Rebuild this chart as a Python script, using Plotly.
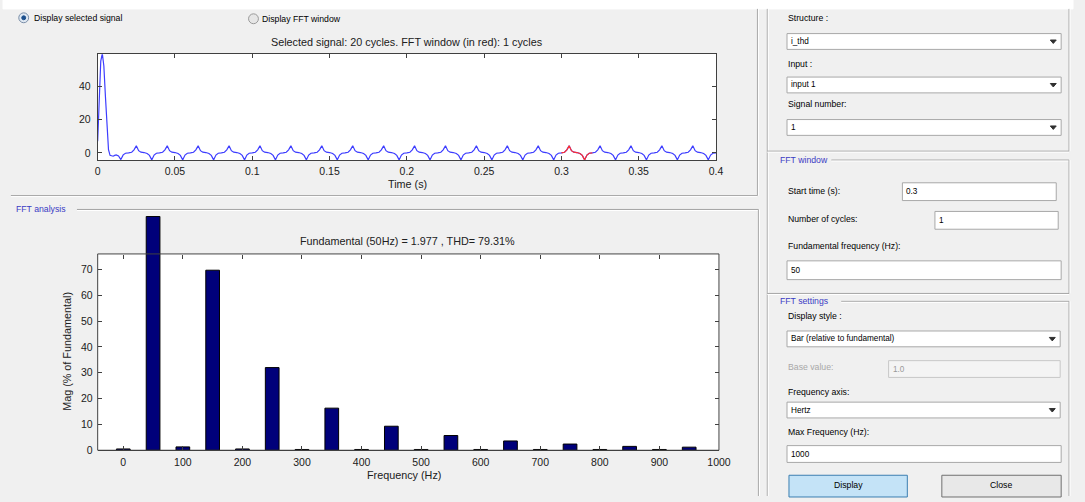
import plotly.graph_objects as go

W, H = 1085, 502

# ---------------- data ----------------
# transient at start of the selected signal (time s, value)
transient_t = [0.000, 0.001, 0.002, 0.003, 0.004, 0.005, 0.006, 0.007, 0.008, 0.010, 0.011, 0.012, 0.0135, 0.015, 0.0165, 0.018]
transient_v = [7.0, 35.0, 55.0, 59.5, 52.0, 34.0, 14.0, 2.0, -1.5, -2.0, -1.5, -1.2, -1.8, -4.0, -1.2, -0.2]
# one steady-state cycle (phase within the 20 ms period, value)
cycle_phase = [0.000, 0.002, 0.0035, 0.005, 0.0065, 0.008, 0.010, 0.012, 0.0135, 0.015, 0.0165, 0.018]
cycle_value = [0.0, 0.4, 1.8, 4.2, 1.3, 0.4, 0.2, -0.4, -1.5, -4.2, -1.3, -0.2]
n_cycles = 20
period = 0.02
win_start = 0.30
win_cycles = 1

freq_hz = [0, 50, 100, 150, 200, 250, 300, 350, 400, 450, 500, 550, 600, 650, 700, 750, 800, 850, 900, 950]
mag_pct = [0.5, 90.5, 1.3, 69.7, 0.5, 32.0, 0.3, 16.3, 0.3, 9.3, 0.3, 5.7, 0.3, 3.6, 0.3, 2.4, 0.3, 1.5, 0.3, 1.2]

time_ticks = [0, 0.05, 0.1, 0.15, 0.2, 0.25, 0.3, 0.35, 0.4]
sig_ticks = [0, 20, 40]
freq_ticks = [0, 100, 200, 300, 400, 500, 600, 700, 800, 900, 1000]
mag_ticks = [0, 10, 20, 30, 40, 50, 60, 70]
mag_box_top = 76      # visible top of the spectrum axes box
mag_draw_top = 90.5   # the fundamental bar is drawn past the box

# build signal series from the transient + repeated steady-state cycle
sig_t = list(transient_t)
sig_v = list(transient_v)
for k in range(1, n_cycles):
    for p, v in zip(cycle_phase, cycle_value):
        sig_t.append(round(k * period + p, 6))
        sig_v.append(v)
sig_t.append(n_cycles * period)
sig_v.append(0.0)
win_end = win_start + win_cycles * period
red_t = [t for t in sig_t if win_start - 1e-9 <= t <= win_end + 1e-9]
red_v = [v for t, v in zip(sig_t, sig_v) if win_start - 1e-9 <= t <= win_end + 1e-9]

# ---------------- helpers ----------------
def X(px):
    return px / W

def Y(py):
    return 1 - py / H

FONT = "Liberation Sans, Arial, sans-serif"
GS = 8.7  # gui font size
shapes = []
annots = []

def rect(x0, y0, x1, y1, fill=None, line="#a0a0a0", lw=1, layer="below"):
    shapes.append(dict(type="rect", xref="paper", yref="paper",
                       x0=X(x0), x1=X(x1), y0=Y(y1), y1=Y(y0),
                       fillcolor=fill if fill else "rgba(0,0,0,0)",
                       line=dict(color=line, width=lw), layer=layer))

def hline(x0, x1, y, color="#a0a0a0"):
    shapes.append(dict(type="line", xref="paper", yref="paper",
                       x0=X(x0), x1=X(x1), y0=Y(y), y1=Y(y),
                       line=dict(color=color, width=1), layer="below"))

def vline(x, y0, y1, color="#a0a0a0"):
    shapes.append(dict(type="line", xref="paper", yref="paper",
                       x0=X(x), x1=X(x), y0=Y(y0), y1=Y(y1),
                       line=dict(color=color, width=1), layer="below"))

def etched_h(x0, x1, y):
    hline(x0, x1, y, "#a0a0a0")
    hline(x0, x1, y + 1, "#ffffff")

def etched_v(x, y0, y1):
    vline(x, y0, y1, "#a0a0a0")
    vline(x + 1, y0, y1, "#ffffff")

def text(x, y, s, size=GS, color="#000000", anchor="left", angle=0):
    annots.append(dict(xref="paper", yref="paper", x=X(x), y=Y(y), text=s,
                       showarrow=False, xanchor=anchor, yanchor="middle",
                       textangle=angle, borderpad=0,
                       font=dict(family=FONT, size=size, color=color)))

def edit_box(x0, y0, x1, y1, s, color="#000000", disabled=False):
    rect(x0, y0, x1, y1, fill="#f4f4f4" if disabled else "#ffffff",
         line="#c8c8c8" if disabled else "#a8a8a8")
    text(x0 + 3, (y0 + y1) / 2, s, size=GS - 0.5, color=color)

def dropdown(x0, y0, x1, y1, s):
    edit_box(x0, y0, x1, y1, s)
    cx, cy = x1 - 8, (y0 + y1) / 2
    path = "M {} {} L {} {} L {} {} Z".format(X(cx - 3), Y(cy - 1.5), X(cx + 3), Y(cy - 1.5), X(cx), Y(cy + 2))
    shapes.append(dict(type="path", xref="paper", yref="paper", path=path,
                       fillcolor="#303030", line=dict(color="#303030", width=1)))

# ---------------- GUI chrome ----------------
rect(0, 0, W, 9, fill="#ffffff", line="#ffffff")
# left top panel
etched_h(8, 765, 198)
etched_v(765, 9, 198)
# FFT analysis frame
etched_h(75, 766, 212)
etched_v(766, 212, 502)
text(12, 212, "FFT analysis", color="#3b3bc4")
# right panel outer
etched_v(775, 9, 502)
etched_h(775, 1081, 153)
etched_v(1081, 9, 153)
# FFT window frame
etched_h(840, 1081, 162)
etched_h(775, 1081, 297)
etched_v(1081, 162, 297)
text(787, 162, "FFT window", color="#3b3bc4")
# FFT settings frame
etched_h(850, 1081, 305)
etched_v(1081, 305, 502)
text(787, 305, "FFT settings", color="#3b3bc4")

# radio buttons
shapes.append(dict(type="circle", xref="paper", yref="paper", x0=X(16), x1=X(26), y0=Y(23), y1=Y(13),
                   fillcolor="#dfe8f2", line=dict(color="#7a8ea8", width=1)))
shapes.append(dict(type="circle", xref="paper", yref="paper", x0=X(19), x1=X(23), y0=Y(20), y1=Y(16),
                   fillcolor="#1c4f8c", line=dict(color="#1c4f8c", width=1)))
shapes.append(dict(type="circle", xref="paper", yref="paper", x0=X(249), x1=X(259), y0=Y(24), y1=Y(14),
                   fillcolor="#e6e6e6", line=dict(color="#9a9a9a", width=1)))
text(30, 18, "Display selected signal")
text(262, 19, "Display FFT window")

# right panel controls
text(795, 18, "Structure :")
dropdown(795, 34, 1073, 50, "i_thd")
text(795, 65, "Input :")
dropdown(795, 78, 1073, 94, "input 1")
text(795, 105, "Signal number:")
dropdown(795, 121, 1073, 137, "1")

text(795, 193, "Start time (s):")
edit_box(912, 185, 1068, 203, "0.3")
text(795, 222, "Number of cycles:")
edit_box(945, 214, 1070, 232, "1")
text(795, 249, "Fundamental frequency (Hz):")
edit_box(795, 264, 1073, 283, "50")

text(795, 320, "Display style :")
dropdown(795, 335, 1072, 351, "Bar (relative to fundamental)")
text(795, 371, "Base value:", color="#a8a8a8")
edit_box(898, 365, 1072, 382, "1.0", color="#9a9a9a", disabled=True)
text(795, 397, "Frequency axis:")
dropdown(795, 407, 1072, 423, "Hertz")
text(795, 437, "Max Frequency (Hz):")
edit_box(795, 451, 1073, 468, "1000")

rect(797, 481, 917, 503, fill="#c4e3f7", line="#3c7fb1")
text(857, 491, "Display", anchor="center")
rect(952, 481, 1073, 503, fill="#e8e8e8", line="#707070")
text(1012, 491, "Close", anchor="center")

# plot titles / labels
TS = 10.8
text(410, 43, "Selected signal: 20 cycles. FFT window (in red): 1 cycles", size=TS, color="#202020", anchor="center")
text(410, 186, "Time (s)", size=TS, color="#202020", anchor="center")
text(410, 244, "Fundamental (50Hz) = 1.977 , THD= 79.31%", size=TS, color="#202020", anchor="center")
text(407, 481, "Frequency (Hz)", size=TS, color="#202020", anchor="center")
text(65, 356, "Mag (% of Fundamental)", size=TS, color="#202020", anchor="center", angle=-90)

# ---------------- axes geometry ----------------
top_l, top_r, top_t, top_b = 96, 723, 55, 162
bot_l, bot_r, bot_t, bot_b = 96, 726, 257, 455.7
# spectrum axis domain reaches up to where the fundamental bar ends
px_per_unit = (bot_b - bot_t) / mag_box_top
bot_draw_t = bot_b - mag_draw_top * px_per_unit - 0.5

# white axes backgrounds and the spectrum box frame
rect(top_l, top_t, top_r, top_b, fill="#ffffff", line="#ffffff")
rect(bot_l, bot_t, bot_r, bot_b, fill="#ffffff", line="#ffffff")
rect(bot_l, bot_t, bot_r, bot_b, fill=None, line="#404040", layer="above")

# ---------------- figure ----------------
fig = go.Figure()
fig.add_trace(go.Scatter(x=sig_t, y=sig_v, mode="lines", line=dict(color="#3d3dff", width=1.2),
                         xaxis="x", yaxis="y", showlegend=False, hoverinfo="skip"))
fig.add_trace(go.Scatter(x=red_t, y=red_v, mode="lines", line=dict(color="#ff3030", width=1.2),
                         xaxis="x", yaxis="y", showlegend=False, hoverinfo="skip"))
fig.add_trace(go.Bar(x=freq_hz, y=mag_pct, width=23, marker=dict(color="#00007a", line=dict(color="#000000", width=1)),
                     xaxis="x2", yaxis="y2", showlegend=False, hoverinfo="skip"))
# empty trace so the top-edge tick axis of the spectrum box is drawn
fig.add_trace(go.Scatter(x=[], y=[], xaxis="x3", yaxis="y2", showlegend=False, hoverinfo="skip"))

tickfont = dict(family=FONT, size=10.5, color="#202020")
axis_common = dict(linecolor="#404040", linewidth=1, ticks="inside",
                   ticklen=4, tickcolor="#404040", showgrid=False, zeroline=False,
                   tickfont=tickfont)

fig.update_layout(
    width=W, height=H, margin=dict(l=0, r=0, t=0, b=0),
    paper_bgcolor="#f0f0f0", plot_bgcolor="rgba(0,0,0,0)",
    font=dict(family=FONT),
    xaxis=dict(domain=[X(top_l), X(top_r)], anchor="y", range=[0, 0.4], tickvals=time_ticks,
               ticktext=[("%g" % v) for v in time_ticks], showline=True, mirror="ticks",
               ticklabelstandoff=1, **axis_common),
    yaxis=dict(domain=[Y(top_b), Y(top_t)], anchor="x", range=[-4.3, 59], tickvals=sig_ticks,
               showline=True, mirror="ticks", ticklabelstandoff=4, **axis_common),
    xaxis2=dict(domain=[X(bot_l), X(bot_r)], anchor="y2", range=[-43, 1000], tickvals=freq_ticks,
                showline=True, mirror=False, ticklabelstandoff=2, **axis_common),
    yaxis2=dict(domain=[Y(bot_b), Y(bot_draw_t)], anchor="x2", range=[0, (bot_b - bot_draw_t) / px_per_unit],
                tickvals=mag_ticks, showline=False, mirror="ticks", ticklabelstandoff=4, **axis_common),
    xaxis3=dict(overlaying="x2", anchor="free", position=Y(bot_t), side="top", range=[-43, 1000],
                tickvals=freq_ticks, showticklabels=False, showline=False, **axis_common),
    shapes=shapes, annotations=annots,
)

fig.write_html("out.html")
